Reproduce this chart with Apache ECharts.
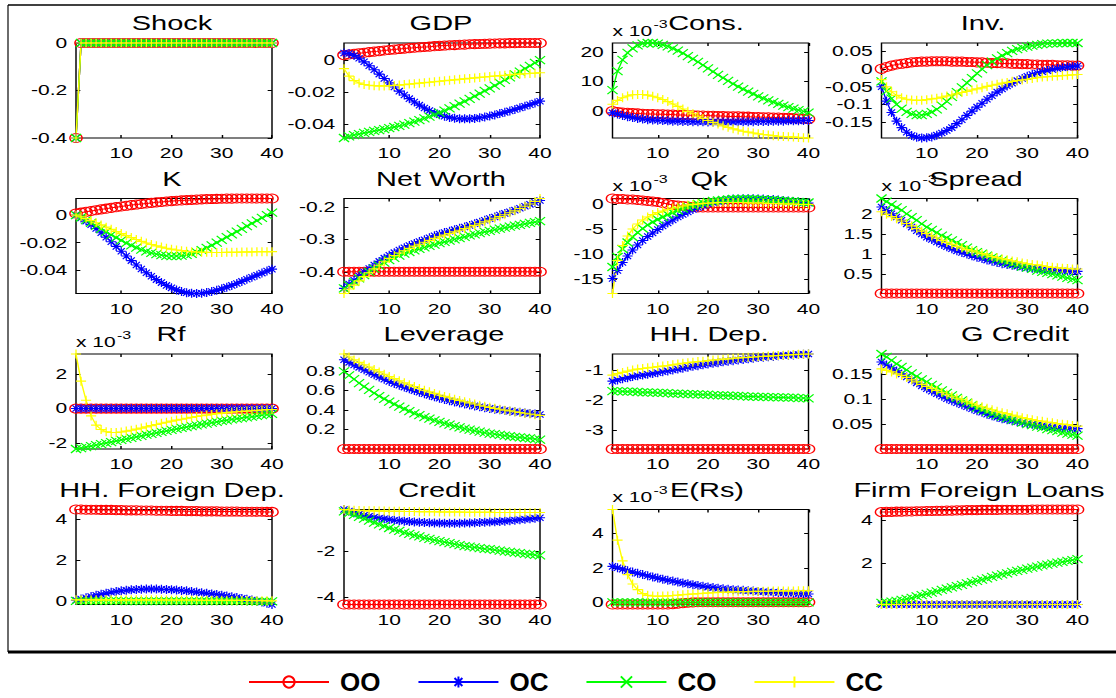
<!DOCTYPE html>
<html>
<head>
<meta charset="utf-8">
<title>Impulse responses</title>
<script src="https://cdn.jsdelivr.net/npm/echarts/dist/echarts.min.js"></script>
<style>
html, body { margin: 0; padding: 0; background: #fff; }
#wrap { position: relative; width: 1116px; height: 698px; overflow: hidden; }
/* the original figure is stretched horizontally, so the panels are drawn narrow and scaled */
#main { position: absolute; left: 0; top: 0; width: 770px; height: 698px; transform: scaleX(1.449351); transform-origin: 0 0; }
#legend { position: absolute; left: 0; top: 666px; width: 1116px; height: 32px; }
</style>
</head>
<body>
<div id="wrap"><div id="main"></div><div id="legend"></div></div>
<script>
var periods = [1,2,3,4,5,6,7,8,9,10,11,12,13,14,15,16,17,18,19,20,21,22,23,24,25,26,27,28,29,30,31,32,33,34,35,36,37,38,39,40];
var xTicks = [10, 20, 30, 40];

var shock = [-0.4,0,0,0,0,0,0,0,0,0,
  0,0,0,0,0,0,0,0,0,0,
  0,0,0,0,0,0,0,0,0,0,
  0,0,0,0,0,0,0,0,0,0];

var gdpOO = [0.0032,0.0036,0.0040,0.0044,0.0047,0.0051,0.0054,0.0057,0.0061,0.0064,
  0.0067,0.0070,0.0073,0.0076,0.0078,0.0081,0.0083,0.0085,0.0088,0.0090,
  0.0092,0.0094,0.0095,0.0097,0.0098,0.0100,0.0101,0.0102,0.0103,0.0104,
  0.0105,0.0106,0.0106,0.0107,0.0107,0.0108,0.0108,0.0108,0.0108,0.0108];
var gdpOC = [0.0045,0.0042,0.0030,0.0012,-0.0010,-0.0035,-0.0060,-0.0087,-0.0115,-0.0142,
  -0.0168,-0.0194,-0.0218,-0.0241,-0.0262,-0.0282,-0.0300,-0.0316,-0.0330,-0.0342,
  -0.0352,-0.0359,-0.0364,-0.0367,-0.0368,-0.0367,-0.0365,-0.0361,-0.0356,-0.0350,
  -0.0343,-0.0335,-0.0327,-0.0318,-0.0309,-0.0299,-0.0289,-0.0279,-0.0268,-0.0257];
var gdpCO = [-0.0488,-0.0478,-0.0470,-0.0463,-0.0456,-0.0450,-0.0444,-0.0438,-0.0432,-0.0426,
  -0.0419,-0.0412,-0.0404,-0.0395,-0.0386,-0.0376,-0.0365,-0.0354,-0.0342,-0.0329,
  -0.0316,-0.0302,-0.0288,-0.0273,-0.0258,-0.0242,-0.0226,-0.0210,-0.0193,-0.0176,
  -0.0159,-0.0142,-0.0124,-0.0107,-0.0089,-0.0071,-0.0053,-0.0035,-0.0017,0.0001];
var gdpCC = [-0.0053,-0.0100,-0.0128,-0.0143,-0.0152,-0.0157,-0.0160,-0.0161,-0.0161,-0.0160,
  -0.0158,-0.0156,-0.0153,-0.0150,-0.0147,-0.0144,-0.0141,-0.0138,-0.0135,-0.0132,
  -0.0129,-0.0126,-0.0123,-0.0120,-0.0117,-0.0114,-0.0111,-0.0108,-0.0105,-0.0102,
  -0.0099,-0.0097,-0.0094,-0.0092,-0.0089,-0.0087,-0.0085,-0.0083,-0.0081,-0.0079];

// Cons., Qk, Spread, Rf and E(Rs) are in units of 10^-3
var consOO = [0.0,-0.3,-0.5,-0.6,-0.7,-0.8,-0.9,-1.0,-1.0,-1.1,
  -1.1,-1.2,-1.2,-1.3,-1.3,-1.4,-1.4,-1.5,-1.5,-1.6,
  -1.6,-1.7,-1.7,-1.8,-1.8,-1.8,-1.9,-1.9,-2.0,-2.0,
  -2.1,-2.1,-2.2,-2.2,-2.3,-2.3,-2.4,-2.5,-2.6,-2.7];
var consOC = [-0.6,-1.0,-1.5,-1.9,-2.2,-2.5,-2.7,-2.9,-3.0,-3.1,
  -3.2,-3.3,-3.4,-3.4,-3.5,-3.5,-3.6,-3.6,-3.6,-3.7,
  -3.7,-3.7,-3.7,-3.7,-3.7,-3.6,-3.6,-3.6,-3.6,-3.5,
  -3.5,-3.5,-3.4,-3.4,-3.4,-3.3,-3.3,-3.3,-3.2,-3.2];
var consCO = [7.1,13.5,17.3,19.7,21.2,22.2,22.8,23.0,23.0,22.8,
  22.4,21.9,21.2,20.4,19.6,18.6,17.6,16.6,15.5,14.4,
  13.3,12.2,11.2,10.2,9.2,8.3,7.4,6.6,5.8,5.0,
  4.3,3.6,3.0,2.4,1.8,1.3,0.8,0.3,-0.1,-0.5];
var consCC = [2.3,3.6,4.5,5.1,5.5,5.6,5.6,5.4,5.0,4.5,
  3.9,3.2,2.4,1.6,0.7,-0.1,-0.9,-1.7,-2.5,-3.2,
  -3.8,-4.4,-5.0,-5.5,-6.0,-6.4,-6.8,-7.1,-7.4,-7.7,
  -7.9,-8.1,-8.3,-8.5,-8.6,-8.7,-8.8,-8.9,-9.0,-9.1];

var invOO = [0.000,0.005,0.009,0.012,0.014,0.016,0.018,0.019,0.020,0.020,
  0.021,0.021,0.021,0.021,0.020,0.020,0.020,0.019,0.019,0.018,
  0.018,0.017,0.016,0.016,0.015,0.015,0.014,0.014,0.013,0.013,
  0.012,0.012,0.011,0.011,0.011,0.010,0.010,0.010,0.009,0.009];
var invOC = [-0.050,-0.090,-0.122,-0.146,-0.164,-0.177,-0.186,-0.191,-0.193,-0.192,
  -0.190,-0.185,-0.179,-0.172,-0.164,-0.153,-0.142,-0.130,-0.118,-0.107,
  -0.096,-0.085,-0.075,-0.065,-0.056,-0.048,-0.040,-0.033,-0.027,-0.021,
  -0.016,-0.012,-0.008,-0.005,-0.002,0.001,0.003,0.005,0.006,0.008];
var invCO = [-0.035,-0.062,-0.083,-0.099,-0.111,-0.120,-0.126,-0.129,-0.129,-0.126,
  -0.121,-0.113,-0.103,-0.091,-0.078,-0.065,-0.052,-0.039,-0.026,-0.013,
  -0.001,0.010,0.020,0.029,0.037,0.044,0.050,0.055,0.059,0.062,
  0.065,0.067,0.069,0.070,0.071,0.071,0.072,0.072,0.072,0.072];
var invCC = [-0.030,-0.050,-0.064,-0.074,-0.081,-0.085,-0.087,-0.088,-0.088,-0.086,
  -0.084,-0.082,-0.079,-0.076,-0.073,-0.070,-0.066,-0.063,-0.059,-0.056,
  -0.053,-0.049,-0.046,-0.043,-0.040,-0.038,-0.035,-0.033,-0.031,-0.029,
  -0.027,-0.025,-0.023,-0.022,-0.021,-0.020,-0.019,-0.018,-0.017,-0.016];

var kOO = [0.0012,0.0018,0.0024,0.0030,0.0036,0.0042,0.0047,0.0053,0.0058,0.0063,
  0.0068,0.0073,0.0077,0.0081,0.0085,0.0089,0.0093,0.0096,0.0099,0.0102,
  0.0105,0.0107,0.0109,0.0111,0.0113,0.0115,0.0116,0.0117,0.0118,0.0119,
  0.0120,0.0120,0.0121,0.0121,0.0121,0.0121,0.0121,0.0121,0.0121,0.0121];
var kOC = [0.0000,-0.0020,-0.0043,-0.0069,-0.0097,-0.0128,-0.0160,-0.0193,-0.0227,-0.0262,
  -0.0297,-0.0330,-0.0362,-0.0391,-0.0418,-0.0444,-0.0468,-0.0490,-0.0510,-0.0528,
  -0.0543,-0.0555,-0.0563,-0.0568,-0.0569,-0.0567,-0.0562,-0.0555,-0.0546,-0.0535,
  -0.0523,-0.0510,-0.0496,-0.0481,-0.0466,-0.0451,-0.0436,-0.0421,-0.0406,-0.0392];
var kCO = [0.0000,-0.0017,-0.0036,-0.0056,-0.0077,-0.0099,-0.0121,-0.0143,-0.0164,-0.0184,
  -0.0203,-0.0220,-0.0236,-0.0250,-0.0263,-0.0274,-0.0283,-0.0290,-0.0295,-0.0297,
  -0.0297,-0.0294,-0.0289,-0.0281,-0.0268,-0.0254,-0.0238,-0.0220,-0.0200,-0.0180,
  -0.0160,-0.0140,-0.0120,-0.0100,-0.0080,-0.0060,-0.0040,-0.0020,0.0000,0.0018];
var kCC = [0.0000,-0.0012,-0.0025,-0.0040,-0.0055,-0.0071,-0.0087,-0.0103,-0.0119,-0.0134,
  -0.0149,-0.0163,-0.0177,-0.0190,-0.0202,-0.0213,-0.0223,-0.0232,-0.0240,-0.0247,
  -0.0253,-0.0258,-0.0262,-0.0265,-0.0268,-0.0269,-0.0270,-0.0271,-0.0271,-0.0271,
  -0.0270,-0.0270,-0.0269,-0.0268,-0.0268,-0.0267,-0.0266,-0.0266,-0.0265,-0.0265];

var nwOO = [-0.4,-0.4,-0.4,-0.4,-0.4,-0.4,-0.4,-0.4,-0.4,-0.4,
  -0.4,-0.4,-0.4,-0.4,-0.4,-0.4,-0.4,-0.4,-0.4,-0.4,
  -0.4,-0.4,-0.4,-0.4,-0.4,-0.4,-0.4,-0.4,-0.4,-0.4,
  -0.4,-0.4,-0.4,-0.4,-0.4,-0.4,-0.4,-0.4,-0.4,-0.4];
var nwOC = [-0.451,-0.438,-0.426,-0.413,-0.401,-0.390,-0.379,-0.368,-0.358,-0.349,
  -0.341,-0.333,-0.326,-0.319,-0.313,-0.307,-0.301,-0.295,-0.289,-0.284,
  -0.279,-0.275,-0.270,-0.266,-0.262,-0.257,-0.252,-0.247,-0.241,-0.236,
  -0.231,-0.225,-0.220,-0.215,-0.210,-0.204,-0.198,-0.192,-0.186,-0.180];
var nwCO = [-0.451,-0.441,-0.431,-0.420,-0.410,-0.400,-0.390,-0.381,-0.372,-0.364,
  -0.357,-0.350,-0.344,-0.339,-0.334,-0.329,-0.325,-0.320,-0.316,-0.312,
  -0.308,-0.304,-0.300,-0.296,-0.292,-0.288,-0.285,-0.281,-0.277,-0.274,
  -0.270,-0.267,-0.264,-0.261,-0.258,-0.255,-0.252,-0.249,-0.247,-0.244];
var nwCC = [-0.467,-0.453,-0.441,-0.428,-0.415,-0.403,-0.391,-0.380,-0.369,-0.359,
  -0.350,-0.342,-0.335,-0.328,-0.321,-0.315,-0.309,-0.303,-0.297,-0.292,
  -0.287,-0.282,-0.277,-0.272,-0.267,-0.262,-0.257,-0.252,-0.246,-0.241,
  -0.235,-0.230,-0.224,-0.218,-0.212,-0.205,-0.198,-0.191,-0.183,-0.174];

var qkOO = [1.2,1.1,1.1,1.0,1.0,0.9,0.8,0.7,0.6,0.5,
  0.3,0.1,-0.1,-0.2,-0.3,-0.4,-0.5,-0.6,-0.6,-0.6,
  -0.6,-0.6,-0.6,-0.6,-0.6,-0.6,-0.6,-0.6,-0.6,-0.6,
  -0.6,-0.6,-0.6,-0.6,-0.6,-0.6,-0.6,-0.6,-0.6,-0.6];
var qkOC = [-14.8,-13.2,-11.6,-10.3,-9.1,-8.1,-7.2,-6.4,-5.7,-5.0,
  -4.3,-3.7,-3.1,-2.5,-2.0,-1.5,-1.0,-0.6,-0.2,0.1,
  0.4,0.6,0.8,1.0,1.1,1.1,1.15,1.15,1.15,1.1,
  1.1,1.0,1.0,0.9,0.8,0.7,0.6,0.5,0.4,0.3];
var qkCO = [-12.5,-10.5,-8.9,-7.6,-6.5,-5.6,-4.8,-4.1,-3.5,-3.0,
  -2.5,-2.0,-1.6,-1.2,-0.8,-0.5,-0.2,0.1,0.3,0.5,
  0.7,0.8,0.9,1.0,1.1,1.1,1.1,1.1,1.1,1.0,
  1.0,0.9,0.9,0.8,0.7,0.7,0.6,0.5,0.4,0.4];
var qkCC = [-17.8,-11.2,-8.2,-6.3,-4.9,-3.9,-3.1,-2.5,-2.0,-1.6,
  -1.3,-1.0,-0.7,-0.5,-0.3,-0.1,0.0,0.1,0.2,0.3,
  0.3,0.4,0.4,0.4,0.4,0.4,0.4,0.3,0.3,0.3,
  0.3,0.2,0.2,0.2,0.1,0.1,0.1,0.0,0.0,0.0];

var spreadOO = [0.03,0.03,0.03,0.03,0.03,0.03,0.03,0.03,0.03,0.03,
  0.03,0.03,0.03,0.03,0.03,0.03,0.03,0.03,0.03,0.03,
  0.03,0.03,0.03,0.03,0.03,0.03,0.03,0.03,0.03,0.03,
  0.03,0.03,0.03,0.03,0.03,0.03,0.03,0.03,0.03,0.03];
var spreadOC = [2.18,2.09,2.01,1.93,1.85,1.76,1.68,1.59,1.51,1.43,
  1.37,1.31,1.25,1.19,1.14,1.09,1.05,1.01,0.97,0.93,
  0.90,0.86,0.83,0.80,0.77,0.75,0.73,0.71,0.69,0.67,
  0.66,0.64,0.63,0.62,0.61,0.60,0.59,0.59,0.58,0.58];
var spreadCO = [2.39,2.31,2.24,2.17,2.10,2.01,1.93,1.85,1.76,1.68,
  1.61,1.54,1.47,1.41,1.35,1.29,1.23,1.17,1.11,1.06,
  1.02,0.97,0.93,0.89,0.85,0.81,0.77,0.74,0.70,0.67,
  0.64,0.60,0.57,0.54,0.51,0.48,0.45,0.42,0.39,0.36];
var spreadCC = [2.06,2.00,1.94,1.89,1.83,1.77,1.71,1.64,1.58,1.52,
  1.46,1.41,1.35,1.30,1.25,1.20,1.16,1.12,1.09,1.06,
  1.02,0.99,0.95,0.92,0.89,0.87,0.84,0.82,0.79,0.77,
  0.75,0.74,0.72,0.70,0.68,0.67,0.66,0.65,0.64,0.64];

var rfOO = [0,0,0,0,0,0,0,0,0,0,
  0,0,0,0,0,0,0,0,0,0,
  0,0,0,0,0,0,0,0,0,0,
  0,0,0,0,0,0,0,0,0,0];
var rfOC = [0.01,0.01,0.01,0.01,0.01,0.01,0.01,0.01,0.01,0.01,
  0.01,0.01,0.01,0.01,0.01,0.01,0.01,0.01,0.01,0.01,
  0.01,0.01,0.01,0.01,0.01,0.01,0.01,0.01,0.01,0.01,
  0.01,0.01,0.01,0.01,0.01,0.01,0.01,0.01,0.01,0.01];
var rfCO = [-2.32,-2.27,-2.21,-2.16,-2.10,-2.04,-1.98,-1.92,-1.86,-1.80,
  -1.74,-1.68,-1.62,-1.56,-1.50,-1.45,-1.39,-1.33,-1.28,-1.22,
  -1.17,-1.11,-1.06,-1.01,-0.96,-0.91,-0.86,-0.81,-0.76,-0.71,
  -0.67,-0.62,-0.58,-0.54,-0.50,-0.46,-0.42,-0.38,-0.34,-0.30];
var rfCC = [3.14,1.58,0.48,-0.42,-0.95,-1.20,-1.33,-1.37,-1.37,-1.34,
  -1.29,-1.24,-1.18,-1.12,-1.05,-0.98,-0.91,-0.84,-0.78,-0.72,
  -0.66,-0.61,-0.55,-0.50,-0.45,-0.41,-0.37,-0.33,-0.29,-0.26,
  -0.23,-0.20,-0.18,-0.16,-0.14,-0.12,-0.10,-0.08,-0.06,-0.05];

var levOO = [0,0,0,0,0,0,0,0,0,0,
  0,0,0,0,0,0,0,0,0,0,
  0,0,0,0,0,0,0,0,0,0,
  0,0,0,0,0,0,0,0,0,0];
var levOC = [0.917,0.890,0.864,0.839,0.814,0.789,0.764,0.740,0.716,0.693,
  0.674,0.655,0.636,0.618,0.600,0.584,0.567,0.551,0.536,0.521,
  0.508,0.496,0.484,0.473,0.462,0.452,0.443,0.434,0.425,0.417,
  0.409,0.402,0.395,0.389,0.383,0.377,0.371,0.366,0.360,0.355];
var levCO = [0.797,0.756,0.717,0.678,0.641,0.608,0.575,0.544,0.514,0.486,
  0.461,0.436,0.412,0.389,0.366,0.347,0.328,0.311,0.294,0.279,
  0.264,0.250,0.236,0.223,0.210,0.199,0.188,0.178,0.168,0.159,
  0.152,0.145,0.138,0.131,0.124,0.119,0.113,0.108,0.102,0.097];
var levCC = [0.976,0.945,0.915,0.890,0.866,0.841,0.816,0.792,0.768,0.745,
  0.723,0.701,0.680,0.660,0.641,0.622,0.604,0.587,0.571,0.555,
  0.540,0.526,0.512,0.499,0.486,0.474,0.462,0.450,0.439,0.428,
  0.418,0.408,0.399,0.391,0.383,0.375,0.367,0.359,0.352,0.345];

var hhdOO = [-3.62,-3.62,-3.62,-3.62,-3.62,-3.62,-3.62,-3.62,-3.62,-3.62,
  -3.62,-3.62,-3.62,-3.62,-3.62,-3.62,-3.62,-3.62,-3.62,-3.62,
  -3.62,-3.62,-3.62,-3.62,-3.62,-3.62,-3.62,-3.62,-3.62,-3.62,
  -3.62,-3.62,-3.62,-3.62,-3.62,-3.62,-3.62,-3.62,-3.62,-3.62];
var hhdOC = [-1.37,-1.33,-1.29,-1.26,-1.22,-1.19,-1.17,-1.14,-1.12,-1.09,
  -1.06,-1.03,-1.00,-0.97,-0.94,-0.91,-0.88,-0.86,-0.83,-0.80,
  -0.78,-0.76,-0.73,-0.71,-0.69,-0.67,-0.65,-0.63,-0.61,-0.59,
  -0.58,-0.56,-0.55,-0.53,-0.52,-0.51,-0.50,-0.49,-0.48,-0.47];
var hhdCO = [-1.70,-1.70,-1.71,-1.72,-1.72,-1.73,-1.74,-1.74,-1.75,-1.76,
  -1.76,-1.77,-1.78,-1.78,-1.79,-1.80,-1.80,-1.81,-1.82,-1.82,
  -1.83,-1.84,-1.84,-1.85,-1.86,-1.86,-1.87,-1.88,-1.88,-1.89,
  -1.89,-1.90,-1.90,-1.91,-1.91,-1.92,-1.92,-1.93,-1.93,-1.94];
var hhdCC = [-1.17,-1.12,-1.08,-1.04,-1.00,-0.97,-0.95,-0.93,-0.91,-0.89,
  -0.87,-0.85,-0.83,-0.80,-0.78,-0.76,-0.74,-0.72,-0.71,-0.69,
  -0.67,-0.66,-0.64,-0.63,-0.61,-0.60,-0.59,-0.58,-0.57,-0.56,
  -0.55,-0.54,-0.53,-0.52,-0.51,-0.50,-0.49,-0.48,-0.48,-0.47];

var gcOO = [0,0,0,0,0,0,0,0,0,0,
  0,0,0,0,0,0,0,0,0,0,
  0,0,0,0,0,0,0,0,0,0,
  0,0,0,0,0,0,0,0,0,0];
var gcOC = [0.175,0.169,0.163,0.157,0.151,0.145,0.139,0.133,0.127,0.121,
  0.116,0.111,0.106,0.101,0.097,0.093,0.089,0.085,0.081,0.077,
  0.074,0.070,0.067,0.064,0.061,0.059,0.057,0.055,0.053,0.051,
  0.050,0.048,0.047,0.045,0.044,0.043,0.042,0.042,0.041,0.041];
var gcCO = [0.191,0.185,0.178,0.171,0.165,0.159,0.152,0.146,0.140,0.135,
  0.129,0.124,0.118,0.113,0.108,0.103,0.098,0.093,0.088,0.083,
  0.079,0.075,0.071,0.068,0.065,0.062,0.059,0.056,0.053,0.050,
  0.048,0.045,0.043,0.040,0.038,0.036,0.033,0.031,0.029,0.027];
var gcCC = [0.161,0.158,0.155,0.151,0.148,0.144,0.139,0.135,0.130,0.126,
  0.122,0.118,0.114,0.110,0.106,0.102,0.099,0.095,0.092,0.088,
  0.085,0.082,0.079,0.076,0.073,0.071,0.068,0.066,0.063,0.061,
  0.059,0.057,0.056,0.054,0.053,0.051,0.050,0.049,0.047,0.046];

var hhfOO = [4.49,4.49,4.48,4.48,4.48,4.47,4.47,4.47,4.46,4.46,
  4.45,4.45,4.45,4.44,4.44,4.44,4.43,4.43,4.43,4.42,
  4.42,4.42,4.41,4.41,4.41,4.40,4.40,4.40,4.40,4.39,
  4.39,4.39,4.39,4.38,4.38,4.38,4.38,4.38,4.37,4.37];
var hhfOC = [0.03,0.09,0.15,0.21,0.27,0.32,0.37,0.42,0.46,0.49,
  0.52,0.54,0.56,0.57,0.58,0.58,0.58,0.57,0.56,0.55,
  0.53,0.51,0.49,0.46,0.43,0.40,0.37,0.34,0.31,0.28,
  0.24,0.20,0.16,0.12,0.08,0.04,-0.01,-0.06,-0.12,-0.18];
var hhfCO = [0.00,0.00,0.00,0.00,0.00,0.00,0.00,0.00,0.00,0.00,
  -0.01,-0.01,-0.01,-0.01,-0.01,-0.01,-0.01,-0.01,-0.01,-0.01,
  -0.01,-0.01,-0.01,-0.01,-0.01,-0.02,-0.02,-0.02,-0.02,-0.02,
  -0.02,-0.02,-0.02,-0.02,-0.02,-0.03,-0.03,-0.03,-0.03,-0.03];
var hhfCC = [0.05,0.05,0.05,0.05,0.05,0.05,0.05,0.05,0.05,0.05,
  0.05,0.05,0.05,0.05,0.05,0.05,0.05,0.05,0.04,0.04,
  0.04,0.04,0.04,0.04,0.04,0.03,0.03,0.03,0.03,0.03,
  0.03,0.02,0.02,0.02,0.02,0.01,0.01,0.01,0.00,0.00];

var crOO = [-4.33,-4.33,-4.33,-4.33,-4.33,-4.33,-4.33,-4.33,-4.33,-4.33,
  -4.33,-4.33,-4.33,-4.33,-4.33,-4.33,-4.33,-4.33,-4.33,-4.33,
  -4.33,-4.33,-4.33,-4.33,-4.33,-4.33,-4.33,-4.33,-4.33,-4.33,
  -4.33,-4.33,-4.33,-4.33,-4.33,-4.33,-4.33,-4.33,-4.33,-4.33];
var crOC = [-0.17,-0.24,-0.31,-0.37,-0.42,-0.47,-0.51,-0.55,-0.58,-0.61,
  -0.64,-0.66,-0.68,-0.70,-0.72,-0.73,-0.74,-0.75,-0.76,-0.76,
  -0.77,-0.77,-0.77,-0.77,-0.76,-0.76,-0.75,-0.74,-0.73,-0.72,
  -0.71,-0.69,-0.68,-0.66,-0.64,-0.62,-0.60,-0.58,-0.55,-0.53];
var crCO = [-0.25,-0.33,-0.41,-0.49,-0.57,-0.66,-0.74,-0.82,-0.90,-0.98,
  -1.05,-1.11,-1.18,-1.24,-1.30,-1.35,-1.41,-1.46,-1.51,-1.56,
  -1.60,-1.64,-1.69,-1.73,-1.77,-1.80,-1.83,-1.86,-1.89,-1.91,
  -1.94,-1.97,-2.00,-2.03,-2.06,-2.08,-2.11,-2.13,-2.16,-2.18];
var crCC = [-0.17,-0.19,-0.20,-0.21,-0.22,-0.23,-0.23,-0.24,-0.24,-0.25,
  -0.25,-0.25,-0.26,-0.26,-0.26,-0.27,-0.27,-0.27,-0.27,-0.28,
  -0.28,-0.28,-0.28,-0.28,-0.29,-0.29,-0.29,-0.29,-0.29,-0.29,
  -0.30,-0.30,-0.30,-0.30,-0.30,-0.30,-0.30,-0.30,-0.30,-0.30];

var ersOO = [-0.13,-0.13,-0.13,-0.13,-0.13,-0.13,-0.13,-0.13,-0.13,-0.13,
  -0.13,-0.13,-0.11,-0.08,-0.05,-0.03,-0.01,0,0,0,
  0,0,0,0,0,0,0,0,0,0,
  0,0,0,0,0,0,0,0,0,0];
var ersOC = [2.08,2.00,1.92,1.83,1.75,1.68,1.61,1.54,1.47,1.40,
  1.34,1.28,1.23,1.17,1.12,1.07,1.02,0.97,0.93,0.88,
  0.85,0.81,0.78,0.75,0.73,0.71,0.69,0.67,0.65,0.63,
  0.61,0.59,0.58,0.56,0.54,0.53,0.52,0.50,0.49,0.48];
var ersCO = [0,0,0,0,0,0,0,0,0,0,
  0,0,0,0,0,0,0,0,0,0,
  0,0,0,0,0,0,0,0,0,0,
  0,0,0,0,0,0,0,0,0,0];
var ersCC = [5.38,3.60,2.40,1.60,1.06,0.73,0.50,0.40,0.36,0.35,
  0.36,0.37,0.39,0.41,0.44,0.46,0.48,0.50,0.52,0.54,
  0.55,0.57,0.58,0.59,0.60,0.61,0.62,0.62,0.63,0.63,
  0.64,0.64,0.65,0.65,0.66,0.66,0.66,0.67,0.67,0.67];

var fflOO = [4.36,4.37,4.37,4.38,4.38,4.39,4.39,4.40,4.40,4.41,
  4.41,4.42,4.42,4.43,4.43,4.44,4.44,4.45,4.45,4.45,
  4.46,4.46,4.46,4.46,4.47,4.47,4.47,4.47,4.47,4.47,
  4.48,4.48,4.48,4.48,4.48,4.48,4.48,4.48,4.48,4.48];
var fflOC = [0.10,0.10,0.10,0.10,0.10,0.10,0.10,0.10,0.10,0.10,
  0.10,0.10,0.10,0.10,0.10,0.10,0.10,0.10,0.10,0.10,
  0.10,0.10,0.10,0.10,0.10,0.10,0.10,0.10,0.10,0.10,
  0.10,0.10,0.10,0.10,0.10,0.10,0.10,0.10,0.10,0.10];
var fflCO = [0.17,0.20,0.23,0.27,0.31,0.36,0.41,0.47,0.53,0.59,
  0.65,0.71,0.77,0.83,0.89,0.95,1.01,1.07,1.13,1.19,
  1.25,1.31,1.37,1.43,1.49,1.54,1.60,1.65,1.70,1.75,
  1.80,1.85,1.90,1.94,1.99,2.03,2.07,2.11,2.15,2.19];
var fflCC = [0.10,0.10,0.10,0.10,0.10,0.10,0.10,0.10,0.10,0.10,
  0.10,0.10,0.10,0.10,0.10,0.10,0.10,0.10,0.10,0.10,
  0.10,0.10,0.10,0.10,0.10,0.10,0.10,0.10,0.10,0.10,
  0.10,0.10,0.10,0.10,0.10,0.10,0.10,0.10,0.10,0.10];

var panels = [
  {title: 'Shock', lines: [shock, shock, shock, shock], ticks: [-0.4, -0.2, 0], tx: 172},
  {title: 'GDP', lines: [gdpOO, gdpOC, gdpCO, gdpCC], ticks: [-0.04, -0.02, 0], tx: 441},
  {title: 'Cons.', lines: [consOO, consOC, consCO, consCC], ticks: [0, 10, 20], tx: 706, exp: true},
  {title: 'Inv.', lines: [invOO, invOC, invCO, invCC], ticks: [-0.15, -0.1, -0.05, 0, 0.05], tx: 983},
  {title: 'K', lines: [kOO, kOC, kCO, kCC], ticks: [-0.04, -0.02, 0], tx: 172},
  {title: 'Net Worth', lines: [nwOO, nwOC, nwCO, nwCC], ticks: [-0.4, -0.3, -0.2], tx: 441},
  {title: 'Qk', lines: [qkOO, qkOC, qkCO, qkCC], ticks: [-15, -10, -5, 0], tx: 709, exp: true},
  {title: 'Spread', lines: [spreadOO, spreadOC, spreadCO, spreadCC], ticks: [0.5, 1, 1.5, 2], tx: 976, exp: true},
  {title: 'Rf', lines: [rfOO, rfOC, rfCO, rfCC], ticks: [-2, 0, 2], tx: 171, exp: true},
  {title: 'Leverage', lines: [levOO, levOC, levCO, levCC], ticks: [0.2, 0.4, 0.6, 0.8], tx: 444},
  {title: 'HH. Dep.', lines: [hhdOO, hhdOC, hhdCO, hhdCC], ticks: [-3, -2, -1], tx: 709},
  {title: 'G Credit', lines: [gcOO, gcOC, gcCO, gcCC], ticks: [0.05, 0.1, 0.15], tx: 1015},
  {title: 'HH. Foreign Dep.', lines: [hhfOO, hhfOC, hhfCO, hhfCC], ticks: [0, 2, 4], tx: 172},
  {title: 'Credit', lines: [crOO, crOC, crCO, crCC], ticks: [-4, -2], tx: 437},
  {title: 'E(Rs)', lines: [ersOO, ersOC, ersCO, ersCC], ticks: [0, 2, 4], tx: 707, exp: true},
  {title: 'Firm Foreign Loans', lines: [fflOO, fflOC, fflCO, fflCC], ticks: [2, 4], tx: 979}
];

var markers = [
  {name: 'OO', color: '#ff0000', symbol: 'circle', size: [8.5, 9]},
  {name: 'OC', color: '#0000ff', symbol: 'path://M0,-1L0,1M-1,0L1,0M-0.7,-0.7L0.7,0.7M-0.7,0.7L0.7,-0.7', size: [7, 9]},
  {name: 'CO', color: '#00ff00', symbol: 'path://M-1,-1L1,1M-1,1L1,-1', size: [7, 8]},
  {name: 'CC', color: '#ffff00', symbol: 'path://M0,-1L0,1M-1,0L1,0', size: [7, 9]}
];

var S = 1116 / 770;                 // horizontal stretch of the figure
var colLeft = [76, 344, 612.5, 881.5]; // page pixels
var boxWidth = 196;
var rowTop = [43, 198.5, 354, 509.5];
var boxHeight = 95;
var FONT = '"Liberation Sans", Arial, Helvetica, sans-serif';

function extent(list) {
  var lo = Infinity, hi = -Infinity;
  list.forEach(function (a) {
    a.forEach(function (v) { if (v < lo) lo = v; if (v > hi) hi = v; });
  });
  return [lo, hi];
}

var grids = [], xAxes = [], yAxes = [], series = [], graphics = [];
var tickStyle = {inside: true, length: 3, lineStyle: {color: '#000', width: 1}};
var labelStyle = {color: '#000', fontSize: 14.5, fontFamily: FONT};

panels.forEach(function (p, i) {
  var r = Math.floor(i / 4), c = i % 4;
  var ext = extent(p.lines);
  grids.push({
    left: colLeft[c] / S, top: rowTop[r], width: boxWidth / S, height: boxHeight,
    show: true, borderColor: '#000', borderWidth: 1, backgroundColor: 'transparent',
    containLabel: false, outerBoundsMode: 'none'
  });
  ['bottom', 'top'].forEach(function (pos) {
    xAxes.push({
      type: 'value', gridIndex: i, position: pos, min: 1, max: 40,
      axisLine: {show: false, onZero: false}, splitLine: {show: false},
      axisTick: Object.assign({customValues: xTicks}, tickStyle),
      axisLabel: Object.assign({show: pos === 'bottom', customValues: xTicks, margin: 8}, labelStyle)
    });
  });
  ['left', 'right'].forEach(function (pos) {
    yAxes.push({
      type: 'value', gridIndex: i, position: pos, min: ext[0], max: ext[1],
      axisLine: {show: false, onZero: false}, splitLine: {show: false},
      axisTick: Object.assign({customValues: p.ticks}, tickStyle),
      axisLabel: Object.assign({show: pos === 'left', customValues: p.ticks, margin: 6}, labelStyle)
    });
  });
  p.lines.forEach(function (vals, j) {
    var m = markers[j];
    series.push({
      type: 'line', name: m.name, xAxisIndex: 2 * i, yAxisIndex: 2 * i,
      data: vals.map(function (v, k) { return [periods[k], v]; }),
      symbol: m.symbol, symbolSize: m.size, clip: false, silent: true,
      lineStyle: {color: m.color, width: 1},
      itemStyle: {color: 'rgba(0,0,0,0)', borderColor: m.color, borderWidth: 1}
    });
  });
  graphics.push({
    type: 'text', x: p.tx / S, y: rowTop[r] - 20, silent: true,
    style: {text: p.title, font: '20px ' + FONT, fill: '#000',
      textAlign: 'center', align: 'center', textVerticalAlign: 'middle', verticalAlign: 'middle'}
  });
  if (p.exp) {
    graphics.push({
      type: 'text', x: colLeft[c] / S, y: rowTop[r] - 12, silent: true,
      style: {text: 'x 10', font: '14.5px ' + FONT, fill: '#000',
        textAlign: 'left', align: 'left', textVerticalAlign: 'middle', verticalAlign: 'middle'}
    });
    graphics.push({
      type: 'text', x: colLeft[c] / S + 28.3, y: rowTop[r] - 19, silent: true,
      style: {text: '-3', font: '11px ' + FONT, fill: '#000',
        textAlign: 'left', align: 'left', textVerticalAlign: 'middle', verticalAlign: 'middle'}
    });
  }
});

// outer frame and the rule above the legend
graphics.push({type: 'line', silent: true, shape: {x1: 8 / S, y1: 5, x2: 770, y2: 5}, style: {stroke: '#000', lineWidth: 1.5}});
graphics.push({type: 'line', silent: true, shape: {x1: 8 / S, y1: 5, x2: 8 / S, y2: 652}, style: {stroke: '#000', lineWidth: 0.8}});
graphics.push({type: 'line', silent: true, shape: {x1: 8 / S, y1: 652, x2: 770, y2: 652}, style: {stroke: '#000', lineWidth: 3}});

var chart = echarts.init(document.getElementById('main'), null, {renderer: 'svg'});
chart.setOption({
  animation: false,
  backgroundColor: 'transparent',
  grid: grids,
  xAxis: xAxes,
  yAxis: yAxes,
  series: series,
  graphic: graphics
});

var legendChart = echarts.init(document.getElementById('legend'), null, {renderer: 'svg'});
legendChart.setOption({
  animation: false,
  grid: {show: false, left: 0, top: 0, width: 1, height: 1},
  xAxis: {type: 'value', show: false},
  yAxis: {type: 'value', show: false},
  legend: {
    left: 248, top: 'middle', itemWidth: 80, itemHeight: 14, itemGap: 37, selectedMode: false, padding: 0,
    textStyle: {color: '#000', fontSize: 26, lineHeight: 28, fontWeight: 'bold', fontFamily: FONT, padding: [0, 0, 0, 6]},
    data: markers.map(function (m) { return m.name; })
  },
  series: markers.map(function (m) {
    return {
      type: 'line', name: m.name, data: [], symbol: m.symbol, symbolSize: 12,
      lineStyle: {color: m.color, width: 1.5},
      itemStyle: {color: 'rgba(0,0,0,0)', borderColor: m.color, borderWidth: 1.2}
    };
  })
});

window.addEventListener('resize', function () { chart.resize(); legendChart.resize(); });
</script>
</body>
</html>
